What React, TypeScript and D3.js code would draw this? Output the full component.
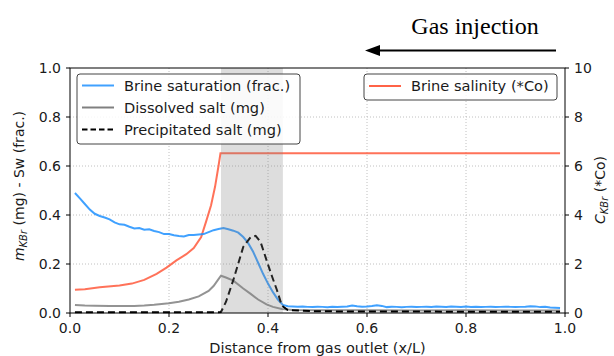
import React from "react";
import * as d3 from "d3";

// Brine saturation Sw (left axis, frac.) as [x/L, value]
const brineSaturation: [number, number][] = [
  [0.01, 0.49], [0.02, 0.468], [0.03, 0.445], [0.04, 0.422], [0.05, 0.405],
  [0.06, 0.396], [0.07, 0.39], [0.08, 0.382], [0.09, 0.37], [0.1, 0.362],
  [0.11, 0.36], [0.12, 0.352], [0.13, 0.345], [0.14, 0.347], [0.15, 0.34],
  [0.16, 0.342], [0.17, 0.335], [0.18, 0.33], [0.19, 0.322], [0.2, 0.322],
  [0.21, 0.317], [0.22, 0.314], [0.23, 0.312], [0.24, 0.318], [0.25, 0.318],
  [0.26, 0.32], [0.27, 0.322], [0.28, 0.33], [0.29, 0.338], [0.3, 0.343],
  [0.31, 0.347], [0.32, 0.342], [0.33, 0.336], [0.34, 0.328], [0.35, 0.31],
  [0.36, 0.285], [0.37, 0.25], [0.38, 0.205], [0.39, 0.16], [0.4, 0.12],
  [0.41, 0.085], [0.42, 0.055], [0.43, 0.033], [0.44, 0.028], [0.45, 0.027],
  [0.46, 0.026], [0.47, 0.027], [0.48, 0.025], [0.49, 0.024], [0.5, 0.026],
  [0.51, 0.025], [0.52, 0.023], [0.53, 0.025], [0.54, 0.024], [0.55, 0.026],
  [0.56, 0.027], [0.57, 0.031], [0.58, 0.028], [0.59, 0.026], [0.6, 0.027],
  [0.61, 0.029], [0.62, 0.032], [0.63, 0.029], [0.64, 0.024], [0.65, 0.026],
  [0.66, 0.025], [0.67, 0.023], [0.68, 0.025], [0.69, 0.026], [0.7, 0.024],
  [0.71, 0.025], [0.72, 0.026], [0.73, 0.025], [0.74, 0.027], [0.75, 0.026],
  [0.76, 0.025], [0.77, 0.027], [0.78, 0.026], [0.79, 0.025], [0.8, 0.027],
  [0.81, 0.025], [0.82, 0.026], [0.83, 0.024], [0.84, 0.025], [0.85, 0.026],
  [0.86, 0.024], [0.87, 0.025], [0.88, 0.026], [0.89, 0.025], [0.9, 0.024],
  [0.91, 0.025], [0.92, 0.026], [0.93, 0.028], [0.94, 0.027], [0.95, 0.024],
  [0.96, 0.025], [0.97, 0.022], [0.98, 0.021], [0.99, 0.02],
];

// Dissolved salt (left axis, mg)
const dissolvedSalt: [number, number][] = [
  [0.01, 0.033], [0.03, 0.031], [0.05, 0.03], [0.08, 0.029], [0.1, 0.029],
  [0.13, 0.029], [0.15, 0.031], [0.17, 0.034], [0.2, 0.04], [0.22, 0.046],
  [0.24, 0.055], [0.26, 0.068], [0.28, 0.09], [0.29, 0.11], [0.3, 0.138],
  [0.305, 0.152], [0.315, 0.145], [0.33, 0.132], [0.35, 0.1], [0.365, 0.078],
  [0.38, 0.055], [0.397, 0.035], [0.41, 0.025], [0.428, 0.016], [0.45, 0.012],
  [0.5, 0.011], [0.6, 0.011], [0.7, 0.01], [0.8, 0.011], [0.9, 0.01],
  [0.99, 0.01],
];

// Precipitated salt (left axis, mg)
const precipitatedSalt: [number, number][] = [
  [0.01, 0.003], [0.1, 0.003], [0.2, 0.003], [0.3, 0.003], [0.305, 0.004],
  [0.315, 0.045], [0.33, 0.135], [0.35, 0.27], [0.365, 0.31], [0.375, 0.315],
  [0.385, 0.29], [0.397, 0.216], [0.408, 0.15], [0.418, 0.094], [0.428, 0.03],
  [0.44, 0.012], [0.5, 0.007], [0.6, 0.006], [0.7, 0.006], [0.8, 0.005],
  [0.9, 0.005], [0.99, 0.005],
];

// Brine salinity (right axis, *Co)
const brineSalinity: [number, number][] = [
  [0.01, 0.95], [0.03, 0.97], [0.06, 1.05], [0.1, 1.12], [0.125, 1.2],
  [0.15, 1.35], [0.175, 1.6], [0.195, 1.85], [0.215, 2.15], [0.235, 2.4],
  [0.25, 2.65], [0.265, 3.1], [0.276, 3.8], [0.285, 4.4], [0.293, 5.15],
  [0.3, 6.0], [0.304, 6.52], [0.5, 6.52], [0.75, 6.52], [0.99, 6.52],
];

// Highlighted precipitation zone
const zoneRange: [number, number] = [0.305, 0.43];

const xTicks = [0, 0.2, 0.4, 0.6, 0.8, 1.0];
const yLeftTicks = [0, 0.2, 0.4, 0.6, 0.8, 1.0];
const yRightTicks = [0, 2, 4, 6, 8, 10];

const W = 614;
const H = 356;
const M = { left: 70, right: 565, top: 68, bottom: 313 };

const FONT = "DejaVu Sans, sans-serif";

export default function App() {
  const x = d3.scaleLinear().domain([0, 1]).range([M.left, M.right]);
  const yL = d3.scaleLinear().domain([0, 1]).range([M.bottom, M.top]);
  const yR = d3.scaleLinear().domain([0, 10]).range([M.bottom, M.top]);

  const lineL = d3
    .line<[number, number]>()
    .x((d) => x(d[0]))
    .y((d) => yL(d[1]));
  const lineR = d3
    .line<[number, number]>()
    .x((d) => x(d[0]))
    .y((d) => yR(d[1]));

  const blue = "#1e90ff";
  const red = "#ff6347";
  const gray = "#808080";

  const legendRows = [
    { label: "Brine saturation (frac.)", color: blue, dash: undefined as string | undefined, op: 0.85 },
    { label: "Dissolved salt (mg)", color: gray, dash: undefined, op: 1 },
    { label: "Precipitated salt (mg)", color: "#000", dash: "5.5,3", op: 1 },
  ];

  return (
    <svg
      width={W}
      height={H}
      style={{ position: "absolute", left: 0, top: 0, background: "#fff" }}
      fontFamily={FONT}
    >
      {/* grid */}
      <g stroke="#b0b0b0" strokeWidth={0.8} strokeDasharray="1,2">
        {xTicks.slice(1, -1).map((t) => (
          <line key={"gx" + t} x1={x(t)} x2={x(t)} y1={M.top} y2={M.bottom} />
        ))}
        {yLeftTicks.slice(1, -1).map((t) => (
          <line key={"gy" + t} x1={M.left} x2={M.right} y1={yL(t)} y2={yL(t)} />
        ))}
      </g>

      {/* series */}
      <path d={lineR(brineSalinity) ?? ""} fill="none" stroke={red} strokeWidth={2} strokeOpacity={0.9} />
      <path d={lineL(dissolvedSalt) ?? ""} fill="none" stroke={gray} strokeWidth={2} strokeOpacity={0.85} />
      <path d={lineL(brineSaturation) ?? ""} fill="none" stroke={blue} strokeWidth={2} strokeOpacity={0.85} />
      <path
        d={lineL(precipitatedSalt) ?? ""}
        fill="none"
        stroke="#000"
        strokeWidth={2}
        strokeDasharray="7,4"
      />

      {/* precipitation zone */}
      <rect
        x={x(zoneRange[0])}
        y={M.top}
        width={x(zoneRange[1]) - x(zoneRange[0])}
        height={M.bottom - M.top}
        fill="#808080"
        fillOpacity={0.27}
      />

      {/* frame */}
      <rect
        x={M.left}
        y={M.top}
        width={M.right - M.left}
        height={M.bottom - M.top}
        fill="none"
        stroke="#000"
        strokeWidth={1}
      />

      {/* axes */}
      <g fontSize={14} fill="#1a1a1a">
        {xTicks.map((t) => (
          <g key={"xt" + t}>
            <line x1={x(t)} x2={x(t)} y1={M.bottom} y2={M.bottom + 4} stroke="#000" />
            <text x={x(t)} y={M.bottom + 20} textAnchor="middle">
              {t.toFixed(1)}
            </text>
          </g>
        ))}
        {yLeftTicks.map((t) => (
          <g key={"yl" + t}>
            <line x1={M.left - 4} x2={M.left} y1={yL(t)} y2={yL(t)} stroke="#000" />
            <text x={M.left - 9} y={yL(t) + 5} textAnchor="end">
              {t.toFixed(1)}
            </text>
          </g>
        ))}
        {yRightTicks.map((t) => (
          <g key={"yr" + t}>
            <line x1={M.right} x2={M.right + 4} y1={yR(t)} y2={yR(t)} stroke="#000" />
            <text x={M.right + 9} y={yR(t) + 5} textAnchor="start">
              {t}
            </text>
          </g>
        ))}
        <text x={(M.left + M.right) / 2} y={353} textAnchor="middle" fontSize={14.5}>
          Distance from gas outlet (x/L)
        </text>
        <text transform={`translate(24,186) rotate(-90)`} textAnchor="middle">
          <tspan fontStyle="italic">m</tspan>
          <tspan fontStyle="italic" fontSize={10} dy={3}>KBr</tspan>
          <tspan dy={-3}> (mg) - Sw (frac.)</tspan>
        </text>
        <text transform={`translate(605,190) rotate(-90)`} textAnchor="middle">
          <tspan fontStyle="italic">C</tspan>
          <tspan fontStyle="italic" fontSize={10} dy={3}>KBr</tspan>
          <tspan dy={-3}> (*Co)</tspan>
        </text>
      </g>

      {/* left legend */}
      <g fontSize={14.6} fill="#1a1a1a">
        <rect x={77} y={74} width={223} height={70} rx={3} fill="#fff" fillOpacity={0.85} stroke="#444" strokeWidth={1} />
        {legendRows.map((r, i) => (
          <g key={r.label}>
            <line
              x1={82}
              x2={114}
              y1={85.5 + i * 22}
              y2={85.5 + i * 22}
              stroke={r.color}
              strokeOpacity={r.op}
              strokeWidth={2}
              strokeDasharray={r.dash}
            />
            <text x={124} y={85.5 + i * 22 + 5}>
              {r.label}
            </text>
          </g>
        ))}
      </g>

      {/* right legend */}
      <g fontSize={14.6} fill="#1a1a1a">
        <rect x={364} y={74} width={193} height={26} rx={3} fill="#fff" fillOpacity={0.85} stroke="#444" strokeWidth={1} />
        <line x1={369} x2={401} y1={86} y2={86} stroke={red} strokeWidth={2} />
        <text x={411} y={91}>Brine salinity (*Co)</text>
      </g>

      {/* gas injection annotation */}
      <text x={475} y={34} textAnchor="middle" fontFamily="Liberation Serif, Times New Roman, serif" fontSize={24} fill="#000">
        Gas injection
      </text>
      <line x1={556} x2={376} y1={50.5} y2={50.5} stroke="#000" strokeWidth={2} />
      <path d="M365,50.5 L380,45 L380,56 Z" fill="#000" />
    </svg>
  );
}
